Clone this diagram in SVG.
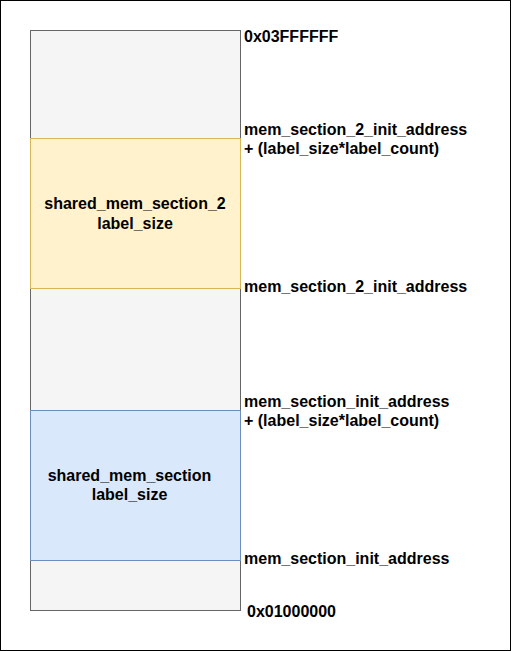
<svg xmlns="http://www.w3.org/2000/svg" width="511" height="651" viewBox="0 0 511 651">
<style>
text{font-family:"Liberation Sans",Arial,sans-serif;font-size:16px;font-weight:bold;fill:#000}
.c{text-anchor:middle}
.gray{fill:#f5f5f5;stroke:#666666;stroke-width:1}
.yellow{fill:#fff2cc;stroke:#d6b656;stroke-width:1}
.blue{fill:#dae8fc;stroke:#6c8ebf;stroke-width:1}
</style>
<rect x="0.5" y="0.5" width="510" height="650" fill="#ffffff" stroke="#000000" stroke-width="1"/>
<g id="memory">
<rect class="gray" x="30.5" y="30.5" width="210" height="580"/>
</g>
<g id="shared_mem_section_2">
<rect class="yellow" x="30.5" y="138.5" width="210" height="150"/>
<text class="c" x="135" y="209">shared_mem_section_2</text>
<text class="c" x="135" y="228.5">label_size</text>
</g>
<g id="shared_mem_section">
<rect class="blue" x="30.5" y="410.5" width="210" height="150"/>
<text class="c" x="129.5" y="481">shared_mem_section</text>
<text class="c" x="129.5" y="500">label_size</text>
</g>
<g id="labels">
<text x="244" y="42">0x03FFFFFF</text>
<text x="244" y="135">mem_section_2_init_address</text>
<text x="244" y="154">+ (label_size*label_count)</text>
<text x="244" y="292">mem_section_2_init_address</text>
<text x="244" y="407">mem_section_init_address</text>
<text x="244" y="426">+ (label_size*label_count)</text>
<text x="244" y="564">mem_section_init_address</text>
<text x="247" y="617">0x01000000</text>
</g>
<g id="connectors"></g>
</svg>
